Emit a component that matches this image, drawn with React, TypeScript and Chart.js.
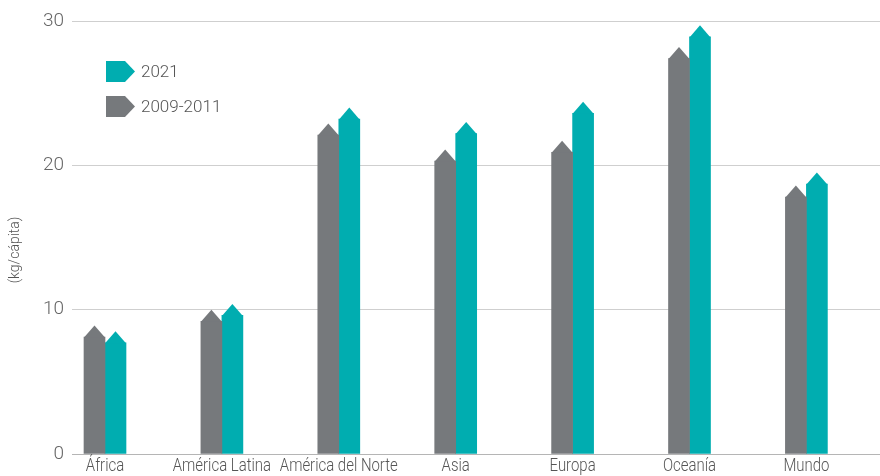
import React, { useEffect, useRef } from "react";
import { Chart, registerables } from "chart.js";

Chart.register(...registerables);

const categories = ["África", "América Latina", "América del Norte", "Asia", "Europa", "Oceanía", "Mundo"];
const series2010 = [8.1, 9.2, 22.1, 20.3, 20.9, 27.4, 17.8];
const series2021 = [7.7, 9.6, 23.2, 22.2, 23.6, 28.9, 18.7];
const yTicks = [0, 10, 20, 30];
const legendLabels = ["2021", "2009-2011"];

const GRAY = "#76797c";
const TEAL = "#00adb0";
const TEXT = "#555555";
const FONT = "Roboto, 'Liberation Sans', sans-serif";

const arrowPlugin = {
  id: "arrowTops",
  afterDatasetsDraw(chart: any) {
    const ctx = chart.ctx;
    chart.data.datasets.forEach((ds: any, di: number) => {
      const meta = chart.getDatasetMeta(di);
      meta.data.forEach((bar: any) => {
        const w = bar.width;
        const h = w * 0.55;
        ctx.save();
        ctx.fillStyle = ds.backgroundColor;
        ctx.beginPath();
        ctx.moveTo(bar.x - w / 2, bar.y + 0.5);
        ctx.lineTo(bar.x, bar.y - h);
        ctx.lineTo(bar.x + w / 2, bar.y + 0.5);
        ctx.closePath();
        ctx.fill();
        ctx.restore();
      });
    });
  },
  afterDraw(chart: any) {
    const ctx = chart.ctx;
    // x category labels (condensed look)
    const xs = chart.scales.x;
    categories.forEach((lab, i) => {
      ctx.save();
      ctx.translate(xs.getPixelForValue(i), 457);
      ctx.scale(0.83, 1);
      ctx.fillStyle = TEXT;
      ctx.font = "300 18px " + FONT;
      ctx.textAlign = "center";
      ctx.textBaseline = "top";
      ctx.fillText(lab, 0, 0);
      ctx.restore();
    });
    ctx.save();
    // y-axis title
    ctx.translate(15, 250);
    ctx.rotate(-Math.PI / 2);
    ctx.fillStyle = TEXT;
    ctx.font = "300 14px " + FONT;
    ctx.textAlign = "center";
    ctx.textBaseline = "middle";
    ctx.fillText("(kg/cápita)", 0, 0);
    ctx.restore();
    // legend
    const colors = [TEAL, GRAY];
    const ys = [71.5, 106.5];
    legendLabels.forEach((lab, i) => {
      const y = ys[i];
      ctx.save();
      ctx.fillStyle = colors[i];
      ctx.beginPath();
      ctx.moveTo(106, y - 10.5);
      ctx.lineTo(125, y - 10.5);
      ctx.lineTo(135, y);
      ctx.lineTo(125, y + 10.5);
      ctx.lineTo(106, y + 10.5);
      ctx.closePath();
      ctx.fill();
      ctx.fillStyle = TEXT;
      ctx.font = "300 17px " + FONT;
      ctx.textAlign = "left";
      ctx.textBaseline = "middle";
      ctx.fillText(lab, 141, y + 1);
      ctx.restore();
    });
  },
};

export default function App() {
  const ref = useRef<HTMLCanvasElement>(null);
  useEffect(() => {
    document.body.style.margin = "0";
    const chart = new Chart(ref.current as HTMLCanvasElement, {
      type: "bar",
      data: {
        datasets: [
          {
            label: "2009-2011",
            data: series2010.map((v, i) => ({ x: i, y: v })),
            backgroundColor: GRAY,
            barThickness: 21,
          },
          {
            label: "2021",
            data: series2021.map((v, i) => ({ x: i, y: v })),
            backgroundColor: TEAL,
            barThickness: 21,
          },
        ],
      },
      options: {
        animation: false,
        responsive: false,
        maintainAspectRatio: false,
        layout: { padding: { top: 21, right: 0, left: 0, bottom: 0 } },
        plugins: { legend: { display: false }, tooltip: { enabled: false } },
        scales: {
          x: {
            type: "linear",
            offset: false,
            min: -0.2823,
            max: 6.6296,
            grid: { display: false },
            border: { display: false },
            afterFit: (scale: any) => {
              scale.height = 22;
            },
            ticks: { display: false },
          },
          y: {
            min: 0,
            max: 30,
            afterBuildTicks: (scale: any) => {
              scale.ticks = yTicks.map((v) => ({ value: v }));
            },
            afterFit: (scale: any) => {
              scale.width = 72;
            },
            grid: {
              color: (c: any) => (c.tick && c.tick.value === 0 ? "#b5b5b5" : "#cfcfcf"),
              drawTicks: false,
              lineWidth: 1,
            },
            border: { display: false },
            ticks: {
              padding: 8,
              color: "#666666",
              font: { family: FONT, size: 19, weight: "300" },
            },
          },
        },
      },
      plugins: [arrowPlugin],
    } as any);
    return () => chart.destroy();
  }, []);
  return (
    <div style={{ width: 880, height: 476 }}>
      <canvas ref={ref} width={880} height={476} style={{ display: "block" }} />
    </div>
  );
}
